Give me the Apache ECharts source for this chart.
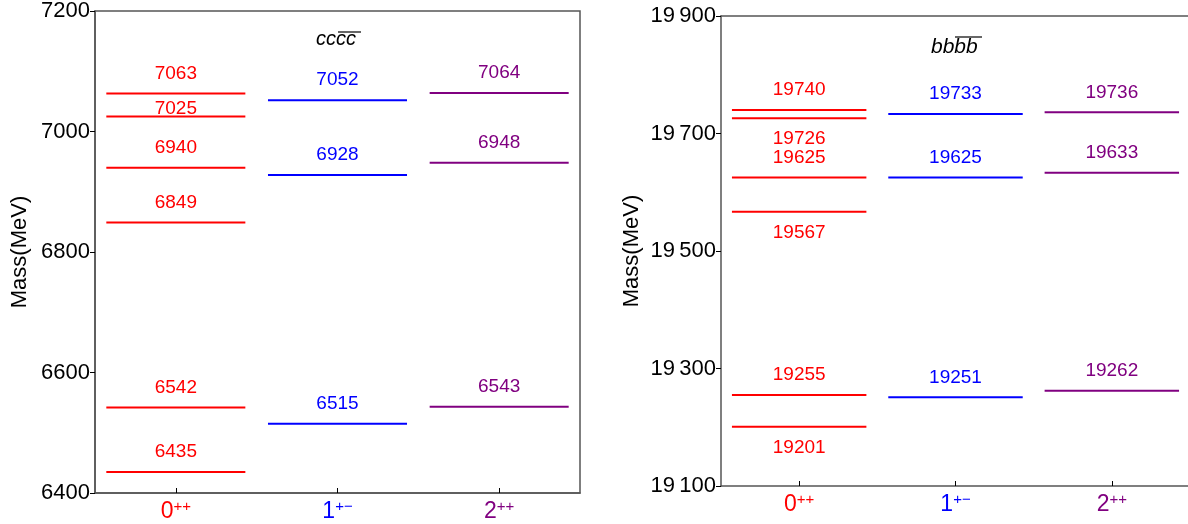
<!DOCTYPE html>
<html>
<head>
<meta charset="utf-8">
<script src="https://cdn.jsdelivr.net/npm/echarts@6/dist/echarts.min.js"></script>
<style>
html,body{margin:0;padding:0;background:#fff;overflow:hidden;}
#chart{width:1188px;height:524px;}
</style>
</head>
<body>
<div id="chart"></div>
<script>
// ---- data ----
const categories = ['0++', '1+-', '2++'];
const categoryColors = ['#ff0000', '#0000ff', '#800080'];

const cc_0pp = [7063, 7025, 6940, 6849, 6542, 6435];
const cc_0pp_labelSide = ['above', 'close', 'above', 'above', 'above', 'above'];
const cc_1pm = [7052, 6928, 6515];
const cc_1pm_labelSide = ['above', 'above', 'above'];
const cc_2pp = [7064, 6948, 6543];
const cc_2pp_labelSide = ['above', 'above', 'above'];

const bb_0pp = [19740, 19726, 19625, 19567, 19255, 19201];
const bb_0pp_labelSide = ['above', 'below', 'above', 'below', 'above', 'below'];
const bb_1pm = [19733, 19625, 19251];
const bb_1pm_labelSide = ['above', 'above', 'above'];
const bb_2pp = [19736, 19633, 19262];
const bb_2pp_labelSide = ['above', 'above', 'above'];

const ccTicks = [6400, 6600, 6800, 7000, 7200];
const bbTicks = [19100, 19300, 19500, 19700, 19900];

// ---- build ----
function buildData(lists, sides) {
  const out = [];
  lists.forEach((vals, ci) => {
    vals.forEach((v, i) => out.push([ci, v, sides[ci][i]]));
  });
  return out;
}
const ccData = buildData([cc_0pp, cc_1pm, cc_2pp], [cc_0pp_labelSide, cc_1pm_labelSide, cc_2pp_labelSide]);
const bbData = buildData([bb_0pp, bb_1pm, bb_2pp], [bb_0pp_labelSide, bb_1pm_labelSide, bb_2pp_labelSide]);

const FONT = '"Liberation Sans", Arial, sans-serif';

function makeRender(data) {
  return function (params, api) {
    const d = data[params.dataIndex];
    const ci = d[0], v = d[1], s = d[2];
    const c = api.coord([ci, v]);
    const bw = api.size([1, 0])[0];
    const half = bw * 0.43;
    const color = categoryColors[ci];
    let dy = -20;
    if (s === 'below') dy = 21;
    if (s === 'close') dy = -8;
    return {
      type: 'group',
      children: [
        { type: 'line', shape: { x1: c[0] - half, y1: c[1], x2: c[0] + half, y2: c[1] },
          style: { stroke: color, lineWidth: 2 } },
        { type: 'text', x: c[0], y: c[1] + dy,
          style: { text: String(v), fill: color, font: '19px ' + FONT,
                   align: 'center', verticalAlign: 'middle' } }
      ]
    };
  };
}

const rich = {};
categoryColors.forEach((col, i) => {
  rich['b' + i] = { color: col, fontSize: 23, fontFamily: FONT, lineHeight: 26 };
  rich['s' + i] = { color: col, fontSize: 15, fontFamily: FONT, verticalAlign: 'top', lineHeight: 26, padding: [0, 0, 12, 0] };
});
function catFormatter(value, idx) {
  const base = value.charAt(0);
  const sup = value.slice(1).replace('-', '\u2212');
  return '{b' + idx + '|' + base + '}{s' + idx + '|' + sup + '}';
}

const AXC = '#555';
function xAxisCfg(gi) {
  return {
    type: 'category', gridIndex: gi, data: categories, boundaryGap: true, position: 'bottom',
    axisLine: { show: true, lineStyle: { color: AXC, width: 1.5 } },
    axisTick: { show: true, inside: true, alignWithLabel: true, length: 5, lineStyle: { color: '#000', width: 1 } },
    axisLabel: { margin: 6, formatter: catFormatter, rich: rich },
    splitLine: { show: false }
  };
}
function topAxisCfg(gi) {
  return {
    type: 'category', gridIndex: gi, data: categories, boundaryGap: true, position: 'top',
    axisLine: { show: true, onZero: false, lineStyle: { color: AXC, width: 1.5 } },
    axisTick: { show: false }, axisLabel: { show: false }, splitLine: { show: false }
  };
}
function yAxisCfg(gi, ticks, thin, gap) {
  return {
    type: 'value', gridIndex: gi, min: ticks[0], max: ticks[ticks.length - 1],
    interval: ticks[1] - ticks[0],
    name: 'Mass(MeV)', nameLocation: 'middle', nameGap: gap,
    nameTextStyle: { fontSize: 22, fontFamily: FONT, color: '#000' },
    axisLine: { show: true, lineStyle: { color: AXC, width: 1.5 } },
    axisTick: { show: true, inside: false, length: 5, lineStyle: { color: '#000', width: 1 } },
    axisLabel: {
      margin: 5, fontSize: 22, fontFamily: FONT, color: '#000',
      formatter: function (v) {
        if (!thin) return String(v);
        const s = String(v);
        return s.slice(0, s.length - 3) + '\u2009' + s.slice(s.length - 3);
      }
    },
    splitLine: { show: false }
  };
}

const chart = echarts.init(document.getElementById('chart'));
chart.setOption({
  animation: false,
  backgroundColor: '#fff',
  grid: [
    { left: 95, top: 11, width: 485, height: 482, show: true, borderColor: AXC, borderWidth: 1.5,
      backgroundColor: 'transparent', containLabel: false, outerBoundsMode: 'none' },
    { left: 721, top: 16, width: 469, height: 470, show: false, containLabel: false, outerBoundsMode: 'none' }
  ],
  xAxis: [xAxisCfg(0), xAxisCfg(1), topAxisCfg(1)],
  yAxis: [yAxisCfg(0, ccTicks, false, 64), yAxisCfg(1, bbTicks, true, 78)],
  series: [
    { type: 'custom', xAxisIndex: 0, yAxisIndex: 0, data: ccData, renderItem: makeRender(ccData),
      encode: { x: 0, y: 1 }, clip: false },
    { type: 'custom', xAxisIndex: 1, yAxisIndex: 1, data: bbData, renderItem: makeRender(bbData),
      encode: { x: 0, y: 1 }, clip: false }
  ],
  graphic: [
    { type: 'text', left: 316, top: 29, style: { text: 'cccc', font: 'italic 20px ' + FONT, fill: '#000' } },
    { type: 'line', shape: { x1: 338, y1: 32, x2: 361, y2: 32 }, style: { stroke: '#000', lineWidth: 1.2 } },
    { type: 'text', left: 931, top: 37, style: { text: 'bbbb', font: 'italic 21px ' + FONT, fill: '#000' } },
    { type: 'line', shape: { x1: 955, y1: 37, x2: 982, y2: 37 }, style: { stroke: '#000', lineWidth: 1.2 } }
  ]
});
</script>
</body>
</html>
